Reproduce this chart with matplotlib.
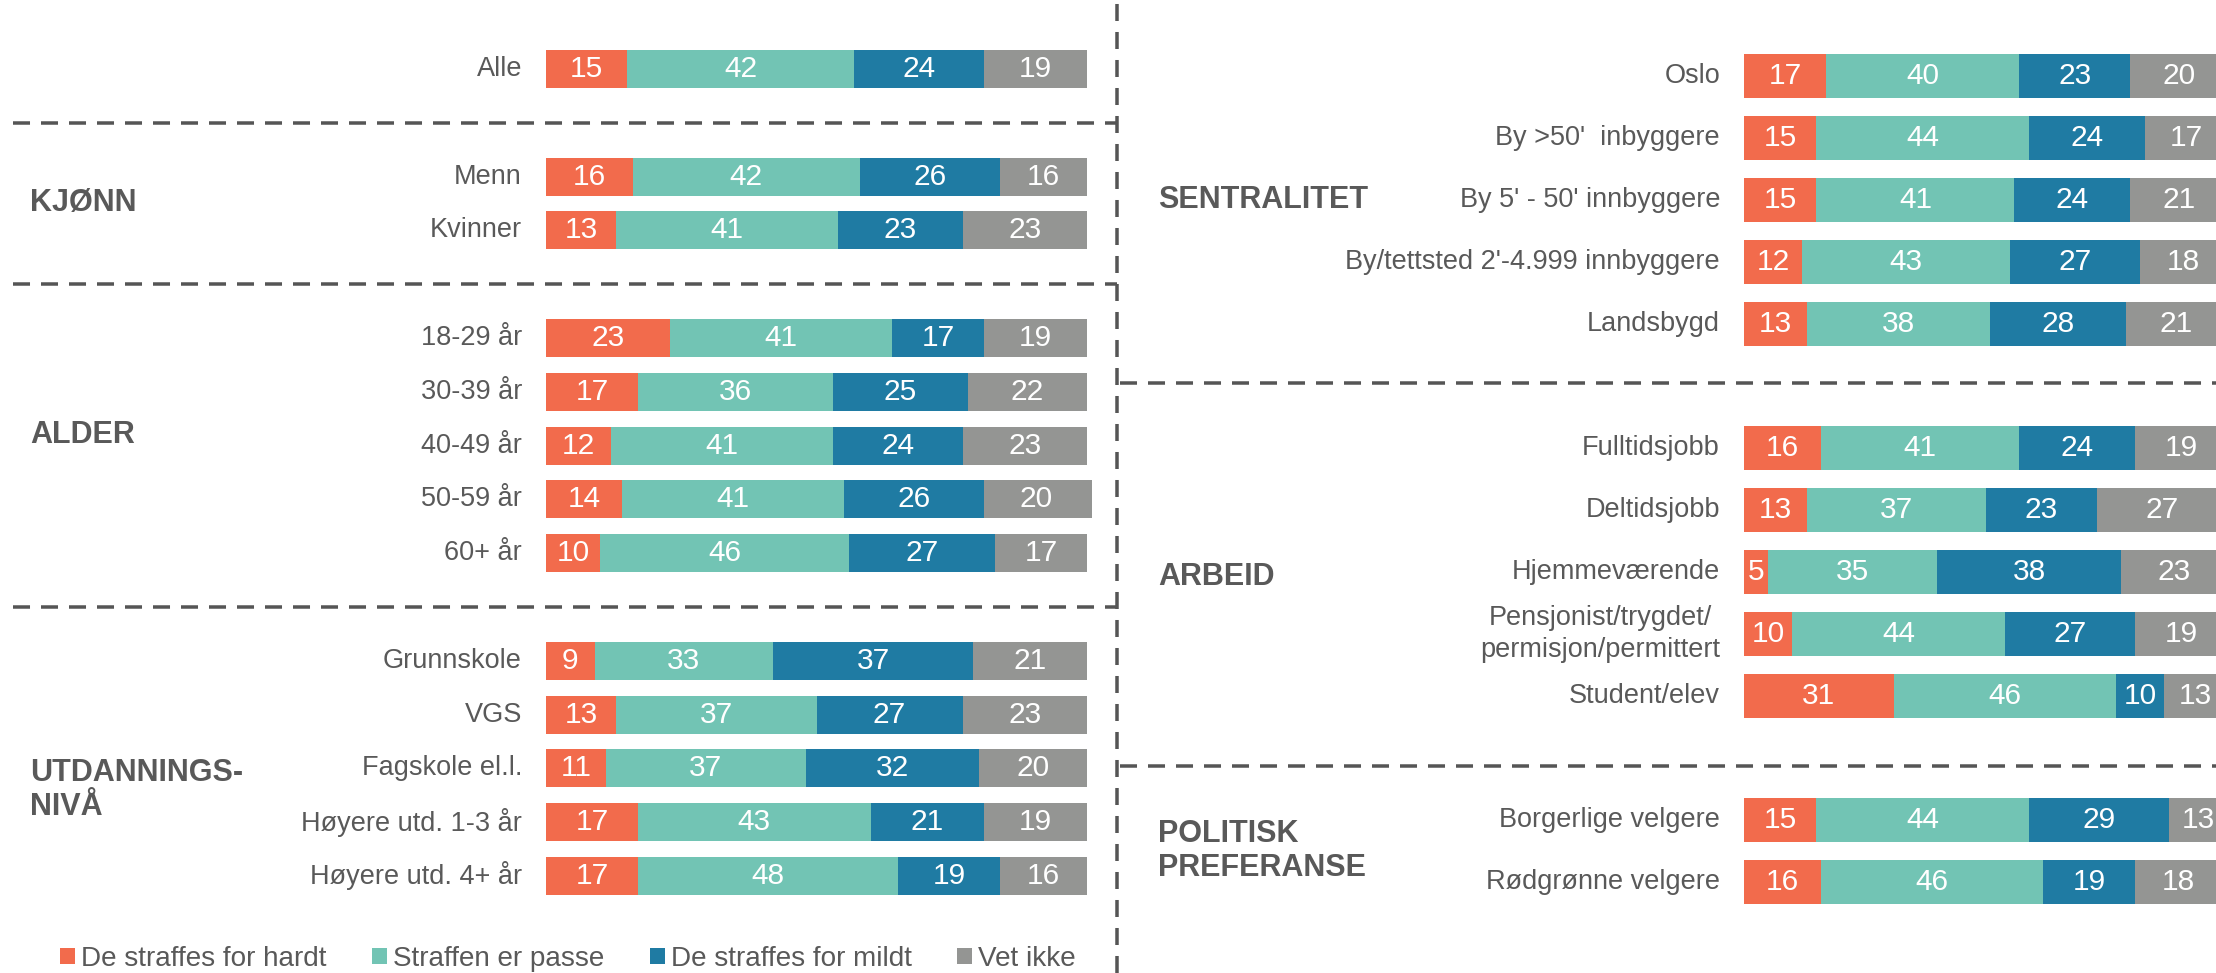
import matplotlib
matplotlib.use("Agg")
import matplotlib.pyplot as plt
import matplotlib.transforms as mtransforms
from matplotlib.patches import Patch
from matplotlib.lines import Line2D

plt.rcParams['font.family'] = ['Liberation Sans', 'DejaVu Sans']

series = ["De straffes for hardt", "Straffen er passe", "De straffes for mildt", "Vet ikke"]
colors = ["#F26B4C", "#72C4B4", "#1F7BA3", "#949593"]

# left panel
left_labels = ["Alle", "Menn", "Kvinner", "18-29 år", "30-39 år", "40-49 år", "50-59 år",
               "60+ år", "Grunnskole", "VGS", "Fagskole el.l.", "Høyere utd. 1-3 år",
               "Høyere utd. 4+ år"]
left_hardt = [15, 16, 13, 23, 17, 12, 14, 10, 9, 13, 11, 17, 17]
left_passe = [42, 42, 41, 41, 36, 41, 41, 46, 33, 37, 37, 43, 48]
left_mildt = [24, 26, 23, 17, 25, 24, 26, 27, 37, 27, 32, 21, 19]
left_vetikke = [19, 16, 23, 19, 22, 23, 20, 17, 21, 23, 20, 19, 16]
left_groups = ["KJØNN", "ALDER", "UTDANNINGS-\nNIVÅ"]

# right panel
right_labels = ["Oslo", "By >50'  inbyggere", "By 5' - 50' innbyggere",
                "By/tettsted 2'-4.999 innbyggere", "Landsbygd", "Fulltidsjobb",
                "Deltidsjobb", "Hjemmeværende", "Pensjonist/trygdet/\npermisjon/permittert",
                "Student/elev", "Borgerlige velgere", "Rødgrønne velgere"]
right_hardt = [17, 15, 15, 12, 13, 16, 13, 5, 10, 31, 15, 16]
right_passe = [40, 44, 41, 43, 38, 41, 37, 35, 44, 46, 44, 46]
right_mildt = [23, 24, 24, 27, 28, 24, 23, 38, 27, 10, 29, 19]
right_vetikke = [20, 17, 21, 18, 21, 19, 27, 23, 19, 13, 13, 18]
right_groups = ["SENTRALITET", "ARBEID", "POLITISK\nPREFERANSE"]

# layout (row slots, pixels)
W, H = 2216, 973
left_rows = [0, 2, 3, 5, 6, 7, 8, 9, 11, 12, 13, 14, 15]
left_group_y = [2.5, 6.8, 13.4]
left_dash_y = [1, 4, 10]
right_rows = [0, 1, 2, 3, 4, 6, 7, 8, 9, 10, 12, 13]
right_group_y = [2, 8.08, 12.5]
right_dash_y = [4.95, 11.13]

text_col = "#595959"
dash_col = "#555555"

fig = plt.figure(figsize=(W / 100, H / 100), dpi=100)


def panel(x0, x1, y_first, slot, rows, labels, data, groups, group_y, dash_y, head_x, dash_x):
    ax = fig.add_axes([x0 / W, 0, (x1 - x0) / W, 1])
    ax.set_xlim(0, 100)
    ax.set_ylim((H - y_first) / slot, -y_first / slot)
    ax.axis("off")
    left = [0] * len(rows)
    for vals, c in zip(data, colors):
        bars = ax.barh(rows, vals, left=left, height=0.71, color=c, clip_on=False)
        ax.bar_label(bars, label_type="center", color="white", fontsize=21.5)
        left = [l + v for l, v in zip(left, vals)]
    lab_tr = mtransforms.offset_copy(ax.transData, fig=fig, x=-24, y=0, units="dots")
    for r, lab in zip(rows, labels):
        ax.text(0, r, lab, transform=lab_tr, ha="right", va="center",
                multialignment="center", fontsize=19.5, color=text_col, linespacing=1.27)
    blend = mtransforms.blended_transform_factory(fig.transFigure, ax.transData)
    for g, gy in zip(groups, group_y):
        ax.text(head_x / W, gy, g, transform=blend, ha="left", va="center",
                fontsize=22, fontweight="bold", color=text_col, linespacing=1.2)
    for dy in dash_y:
        ax.plot([dash_x[0] / W, dash_x[1] / W], [dy, dy], transform=blend, color=dash_col,
                lw=2.52, dashes=(4.86, 3.14), clip_on=False)
    return ax


panel(546, 1087, 69, 53.8, left_rows, left_labels,
      [left_hardt, left_passe, left_mildt, left_vetikke],
      left_groups, left_group_y, left_dash_y, 30, (13, 1117))
panel(1744, 2227, 76, 62, right_rows, right_labels,
      [right_hardt, right_passe, right_mildt, right_vetikke],
      right_groups, right_group_y, right_dash_y, 1158, (1120, W))

fig.add_artist(Line2D([1117 / W, 1117 / W], [0, 1], transform=fig.transFigure,
                      color=dash_col, lw=2.52, dashes=(4.86, 3.14)))

handles = [Patch(facecolor=c, edgecolor="none") for c in colors]
fig.legend(handles, series, loc="center left", bbox_to_anchor=(60 / W, 1 - 959 / H),
           ncol=4, frameon=False, fontsize=20.1, labelcolor=text_col,
           handlelength=0.54, handleheight=0.54, handletextpad=0.22,
           columnspacing=1.62, borderpad=0, borderaxespad=0)

fig.savefig("out.png", dpi=100)
